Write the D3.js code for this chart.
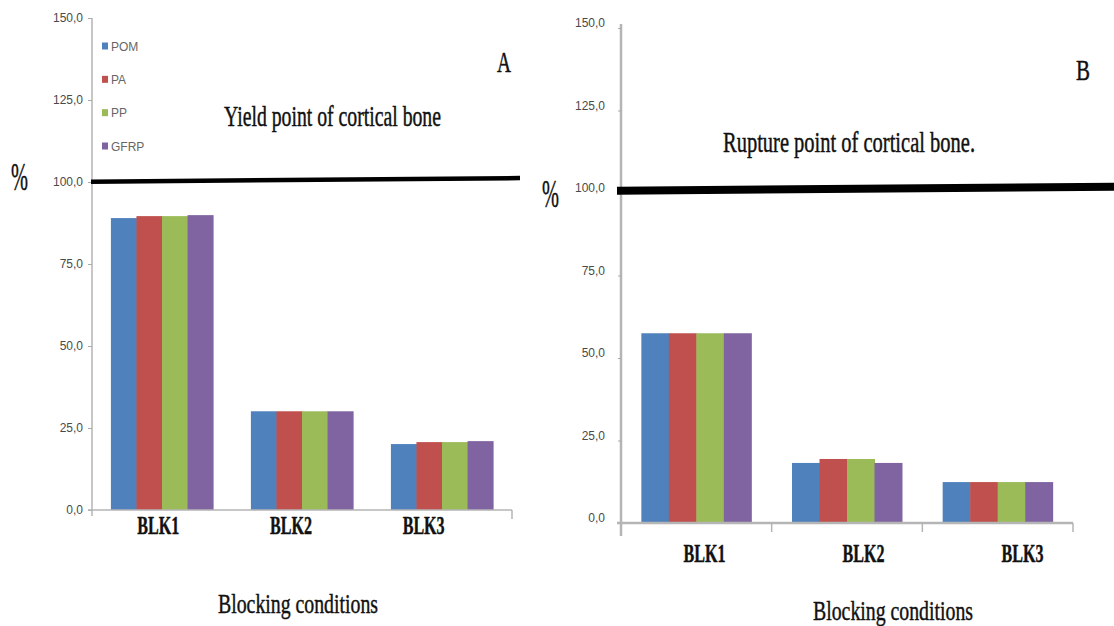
<!DOCTYPE html>
<html>
<head>
<meta charset="utf-8">
<script src="https://cdn.jsdelivr.net/npm/d3@7/dist/d3.min.js"></script>
<style>
  html, body { margin: 0; padding: 0; background: #fff; }
  svg { display: block; }
  .tick-label { font-family: "Liberation Sans", Arial, sans-serif; font-size: 12px; fill: #4a4a4a; }
  .legend-label { font-family: "Liberation Sans", Arial, sans-serif; font-size: 12px; fill: #666; }
  .serif { font-family: "Liberation Serif", "Times New Roman", serif; fill: #111; stroke: #111; stroke-width: 0.45px; }
</style>
</head>
<body>
<svg id="chart" width="1114" height="626"></svg>
<script>
// Blocking conditions on the x axis
const categories = ["BLK1", "BLK2", "BLK3"];
const seriesNames = ["POM", "PA", "PP", "GFRP"];
const seriesColors = ["#4F81BD", "#C0504D", "#9BBB59", "#8064A2"];

// Panel A: stress relative to the yield point of cortical bone (%)
const yieldPOM  = [89.0, 30.1, 20.1];
const yieldPA   = [89.6, 30.1, 20.7];
const yieldPP   = [89.6, 30.1, 20.7];
const yieldGFRP = [89.9, 30.1, 21.0];

// Panel B: stress relative to the rupture point of cortical bone (%)
const rupturePOM  = [57.5, 18.2, 12.4];
const rupturePA   = [57.5, 19.4, 12.4];
const rupturePP   = [57.5, 19.4, 12.4];
const ruptureGFRP = [57.5, 18.2, 12.4];

// Reference level line (start, end) in %
const yieldLevel = [100.1, 101.2];
const ruptureLevel = [100.7, 101.9];

const yTicks = [0, 25, 50, 75, 100, 125, 150];
const yTickLabels = ["0,0", "25,0", "50,0", "75,0", "100,0", "125,0", "150,0"];

const svg = d3.select("#chart");

function drawPanel(cfg) {
  const g = svg.append("g");
  const y = d3.scaleLinear().domain([0, 150]).range([cfg.y0, cfg.y150]);
  const x = d3.scaleBand().domain(categories).range([cfg.xLeft, cfg.xRight]).padding(0);
  const xLabel = d3.scaleBand().domain(categories).range(cfg.labelRange).padding(0);
  const groupW = x.bandwidth() * 0.73;
  const inner = d3.scaleBand().domain(seriesNames).range([0, groupW]).padding(0);

  // bars
  const rows = [];
  cfg.values.forEach((vals, si) => {
    vals.forEach((v, ci) => rows.push({ s: seriesNames[si], c: categories[ci], v, color: seriesColors[si] }));
  });
  g.selectAll("rect.bar").data(rows).join("rect")
    .attr("class", "bar")
    .attr("x", d => x(d.c) + (x.bandwidth() - groupW) / 2 + inner(d.s))
    .attr("y", d => y(d.v))
    .attr("width", inner.bandwidth() + 0.5)
    .attr("height", d => y(0) - y(d.v))
    .attr("fill", d => d.color);

  // y axis
  const yAxis = d3.axisLeft(y).tickValues(yTicks).tickSize(cfg.tickLen).tickFormat((d, i) => yTickLabels[i]);
  const ya = g.append("g").attr("transform", `translate(${cfg.xLeft},0)`).call(yAxis);
  ya.select(".domain").attr("stroke", "#b5b5b5").attr("stroke-width", cfg.axisW)
    .attr("d", `M0,${cfg.axisTop}V${cfg.axisBottom}`);
  ya.selectAll(".tick line").attr("stroke", "#aaa");
  ya.selectAll(".tick text").attr("class", "tick-label").attr("fill", null)
    .attr("x", -cfg.labelGap).attr("dy", cfg.labelDy);

  // x axis baseline
  const xa = g.append("g");
  xa.append("line").attr("x1", cfg.xLeft - cfg.baseStub).attr("x2", cfg.xRight)
    .attr("y1", y(0)).attr("y2", y(0)).attr("stroke", "#b5b5b5").attr("stroke-width", cfg.axisW);
  const boundaries = cfg.innerTicks ? categories.slice(1).map(c => x(c)).concat([cfg.xRight]) : [cfg.xRight];
  xa.selectAll("line.xt").data(boundaries).join("line").attr("class", "xt")
    .attr("x1", d => d).attr("x2", d => d).attr("y1", y(0)).attr("y2", y(0) + 9)
    .attr("stroke", "#b5b5b5").attr("stroke-width", 1.5);

  // category labels
  g.selectAll("text.cat").data(categories).join("text").attr("class", "cat serif")
    .attr("x", d => xLabel(d) + xLabel.bandwidth() / 2 - 21)
    .attr("y", cfg.catY)
    .attr("font-size", 26).attr("font-weight", "bold")
    .attr("textLength", 42).attr("lengthAdjust", "spacingAndGlyphs")
    .text(d => d);

  // reference level line
  g.append("line")
    .attr("x1", cfg.lineX[0]).attr("x2", cfg.lineX[1])
    .attr("y1", y(cfg.level[0])).attr("y2", y(cfg.level[1]))
    .attr("stroke", "#000").attr("stroke-width", cfg.lineW);

  // texts
  const texts = [
    { t: cfg.title, x: cfg.titleX, y: cfg.titleY, w: cfg.titleW, fs: 29 },
    { t: cfg.letter, x: cfg.letterX, y: cfg.letterY, w: 14, fs: 29 },
    { t: "%", x: cfg.pctX, y: cfg.pctY, w: 17, fs: 40 },
    { t: "Blocking conditions", x: cfg.xTitleX, y: cfg.xTitleY, w: 160, fs: 28 }
  ];
  g.selectAll("text.lbl").data(texts).join("text").attr("class", "lbl serif")
    .attr("x", d => d.x).attr("y", d => d.y)
    .attr("font-size", d => d.fs)
    .attr("textLength", d => d.w).attr("lengthAdjust", "spacingAndGlyphs")
    .text(d => d.t);

  // legend
  if (cfg.legend) {
    const lg = g.append("g");
    const ly = d3.scalePoint().domain(seriesNames).range([46, 146]);
    seriesNames.forEach((s, i) => {
      lg.append("rect").attr("x", 102).attr("y", ly(s) - 3.5).attr("width", 6).attr("height", 7).attr("fill", seriesColors[i]);
      lg.append("text").attr("class", "legend-label").attr("x", 111).attr("y", ly(s) + 4.5).text(s);
    });
  }
}

drawPanel({
  values: [yieldPOM, yieldPA, yieldPP, yieldGFRP],
  y0: 510, y150: 18, xLeft: 92, xRight: 512, labelRange: [92, 490],
  tickLen: 4, axisW: 1.5, axisTop: 18, axisBottom: 516, labelGap: 9, labelDy: "0.32em",
  baseStub: 4, innerTicks: false, catY: 534,
  level: yieldLevel, lineX: [91, 520], lineW: 4.5,
  title: "Yield point of cortical bone", titleX: 224, titleY: 126, titleW: 217,
  letter: "A", letterX: 497, letterY: 72,
  pctX: 11, pctY: 190,
  xTitleX: 218, xTitleY: 613,
  legend: true
});

drawPanel({
  values: [rupturePOM, rupturePA, rupturePP, ruptureGFRP],
  y0: 523, y150: 28, xLeft: 621, xRight: 1073, labelRange: [625, 1102],
  tickLen: 3, axisW: 2.5, axisTop: 24, axisBottom: 536, labelGap: 16, labelDy: "-0.1em",
  baseStub: 4, innerTicks: true, catY: 562,
  level: ruptureLevel, lineX: [617, 1114], lineW: 8,
  title: "Rupture point of cortical bone.", titleX: 723, titleY: 152, titleW: 252,
  letter: "B", letterX: 1076, letterY: 80,
  pctX: 542, pctY: 207,
  xTitleX: 813, xTitleY: 620,
  legend: false
});
</script>
</body>
</html>
